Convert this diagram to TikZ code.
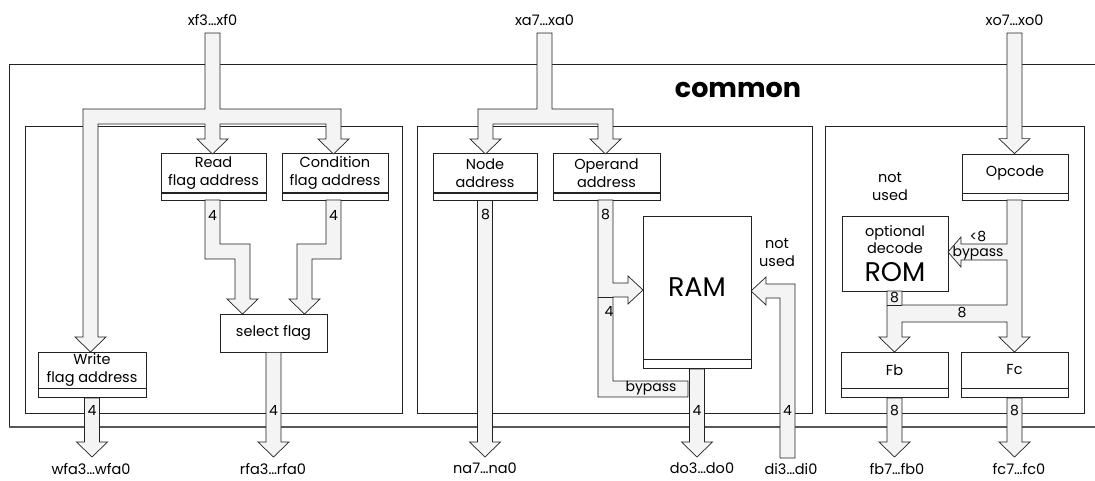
\documentclass[tikz,border=0pt]{standalone}
\usepackage{fontspec}
\setmainfont{Poppins}
\usetikzlibrary{calc}
\definecolor{busfill}{HTML}{F4F4F4}
\definecolor{ink}{HTML}{222222}
\tikzset{
  bus/.style={draw=ink, fill=busfill, line width=0.7pt, line join=miter},
  frame/.style={draw=ink, line width=0.7pt},
  regbox/.style={draw=ink, line width=0.7pt, fill=white, inner sep=0pt, align=center,
    font=\fontsize{14.5}{18}\selectfont},
  regstrip/.style={draw=ink, line width=0.7pt, fill=white, inner sep=0pt, anchor=north},
  lbl/.style={inner sep=0pt, align=center, font=\fontsize{14.5}{18}\selectfont},
  toplbl/.style={lbl, anchor=south, inner ysep=7pt},
  botlbl/.style={lbl, anchor=north, inner ysep=6pt},
  num/.style={inner sep=0pt, font=\fontsize{14}{16}\selectfont},
}
\newcommand\busdown[2]{\draw[bus] let \p1=(#1), \p2=(#2) in
  (\x1-7.5pt,\y1) -- (\x1+7.5pt,\y1) -- (\x1+7.5pt,\y2+15pt) -- (\x1+15.5pt,\y2+15pt)
  -- (\x1,\y2) -- (\x1-15.5pt,\y2+15pt) -- (\x1-7.5pt,\y2+15pt) -- cycle;}
\begin{document}
\begin{tikzpicture}[x=1pt,y=-1pt]
\useasboundingbox (0,0) rectangle (1095,481);
% frames
\draw[frame] (1095,64) -- (9,64) -- (9,427);
\draw[draw=black!65, line width=1.4pt] (9,427) -- (1095,427);
\node[font=\bfseries\fontsize{27}{30}\selectfont, inner sep=0pt] (common) at (738,90) {common};
\draw[frame] (25,126) rectangle (402,413);
\draw[frame] (417,126) rectangle (812,413);
\draw[frame] (825,126) rectangle (1084,413);

% top labels
\node[toplbl] (xf) at (212.5,33) {xf3…xf0};
\node[toplbl] (xa) at (544.5,33) {xa7…xa0};
\node[toplbl] (xo) at (1014.5,33) {xo7…xo0};
% bottom labels
\node[botlbl] (wfa) at (91,457) {wfa3…wfa0};
\node[botlbl] (rfa) at (273,457) {rfa3…rfa0};
\node[botlbl] (na) at (485,457) {na7…na0};
\node[botlbl] (do) at (702,457) {do3…do0};
\node[botlbl] (di) at (791,457) {di3…di0};
\node[botlbl] (fbo) at (897,457) {fb7…fb0};
\node[botlbl] (fco) at (1019,457) {fc7…fc0};

% boxes
\node[regbox, minimum width=105, minimum height=39] (read) at (213.5,173) {Read\\flag address};
\node[regstrip, minimum width=105, minimum height=7] (readS) at (read.south) {};
\node[regbox, minimum width=106, minimum height=39] (cond) at (335,173) {Condition\\flag address};
\node[regstrip, minimum width=106, minimum height=7] (condS) at (cond.south) {};
\node[regbox, minimum width=104, minimum height=39] (naddr) at (485,173) {Node\\address};
\node[regstrip, minimum width=104, minimum height=7] (naddrS) at (naddr.south) {};
\node[regbox, minimum width=107, minimum height=39] (oaddr) at (606.5,173) {Operand\\address};
\node[regstrip, minimum width=107, minimum height=7] (oaddrS) at (oaddr.south) {};
\node[regbox, minimum width=106, minimum height=39] (opc) at (1015,173.5) {Opcode};
\node[regstrip, minimum width=106, minimum height=7] (opcS) at (opc.south) {};
\node[regbox, minimum width=108, minimum height=36] (write) at (92,370) {Write\\flag address};
\node[regstrip, minimum width=108, minimum height=9] (writeS) at (write.south) {};
\node[regbox, minimum width=107, minimum height=36] (fb) at (894.5,370) {Fb};
\node[regstrip, minimum width=107, minimum height=9] (fbS) at (fb.south) {};
\node[regbox, minimum width=107, minimum height=36] (fc) at (1014.5,370) {Fc};
\node[regstrip, minimum width=107, minimum height=9] (fcS) at (fc.south) {};
\node[regbox, minimum width=107, minimum height=38] (sel) at (273.5,333) {select flag};
\node[regbox, minimum width=108, minimum height=143, font=\fontsize{27}{30}\selectfont] (ram) at (697,287.5) {RAM};
\node[regstrip, minimum width=108, minimum height=9] (ramS) at (ram.south) {};
\node[regbox, minimum width=106, minimum height=75, font=\fontsize{14.5}{17}\selectfont] (rom) at (895,253.5) {optional\\decode\\[7pt]{\fontsize{27}{27}\selectfont ROM}};

\node[lbl] (nu1) at (777,253) {not\\used};
\node[lbl] (nu2) at (890,187) {not\\used};

% input buses
\draw[bus] (205,33) -- (220,33) -- (220,109) -- (341,109) -- (341,139) -- (349,139) -- (333.5,154)
  -- (318,139) -- (326,139) -- (326,124) -- (220,124) -- (220,139) -- (228,139) -- (212.5,154)
  -- (197,139) -- (205,139) -- (205,124) -- (98,124) -- (98,337) -- (106,337) -- (90.5,352)
  -- (75,337) -- (83,337) -- (83,109) -- (205,109) -- cycle;
\draw[bus] (537,33) -- (552,33) -- (552,109) -- (613,109) -- (613,139) -- (621,139) -- (605.5,154)
  -- (590,139) -- (598,139) -- (598,124) -- (493,124) -- (493,139) -- (501,139) -- (485.5,154)
  -- (470,139) -- (478,139) -- (478,109) -- (537,109) -- cycle;
\busdown{xo.south}{opc.north}

% flag section
\draw[bus] (205,200) -- (220,200) -- (220,244) -- (250,244) -- (250,299) -- (258,299) -- (242.5,314)
  -- (227,299) -- (235,299) -- (235,259) -- (205,259) -- cycle;
\draw[bus] (326,200) -- (341,200) -- (341,259) -- (312,259) -- (312,299) -- (320,299) -- (304.5,314)
  -- (289,299) -- (297,299) -- (297,244) -- (326,244) -- cycle;
\busdown{writeS.south}{wfa.north}
\busdown{sel.south}{rfa.north}

% address section
\busdown{naddrS.south}{na.north}
\draw[bus] (598,200) -- (613,200) -- (613,283) -- (628,283) -- (628,276) -- (643,290) -- (628,304)
  -- (628,297) -- (613,297) -- (613,381) -- (688,381) -- (688,397) -- (598,397) -- cycle;
\draw[bus] (598,297) -- (613,297);
\busdown{ramS.south}{do.north}
\draw[bus] (780,458) -- (795,458) -- (795,284) -- (766,284) -- (766,277) -- (751,291) -- (766,305)
  -- (766,298) -- (780,298) -- cycle;

% opcode section
\draw[bus] (1007,200) -- (1022,200) -- (1022,337) -- (1030,337) -- (1014.5,352) -- (999,337)
  -- (1007,337) -- (1007,322) -- (902,322) -- (902,337) -- (910,337) -- (894.5,352) -- (879,337)
  -- (887,337) -- (887,291) -- (902,291) -- (902,305) -- (1007,305) -- (1007,260) -- (961,260)
  -- (961,267) -- (948,252) -- (961,237) -- (961,244) -- (1007,244) -- cycle;
\draw[bus] (887,305) -- (902,305);
\busdown{fbS.south}{fbo.north}
\busdown{fcS.south}{fco.north}

% width labels
\node[num] (n1) at (212.5,215) {4};
\node[num] (n2) at (333.5,215) {4};
\node[num] (n3) at (485.5,215) {8};
\node[num] (n4) at (605.5,215) {8};
\node[num] (n5) at (609,311) {4};
\node[num] (n6) at (92,410) {4};
\node[num] (n7) at (273.5,410) {4};
\node[num] (n8) at (697,410) {4};
\node[num] (n9) at (787.5,410) {4};
\node[num] (n10) at (894.5,410) {8};
\node[num] (n11) at (1014.5,410) {8};
\node[num] (n12) at (894.5,298) {8};
\node[num] (n13) at (962,313) {8};
\node[num] (n14) at (978,237) {<8};
\node[num] (bp1) at (978,253) {bypass};
\node[num] (bp2) at (651,388) {bypass};
\end{tikzpicture}
\end{document}
